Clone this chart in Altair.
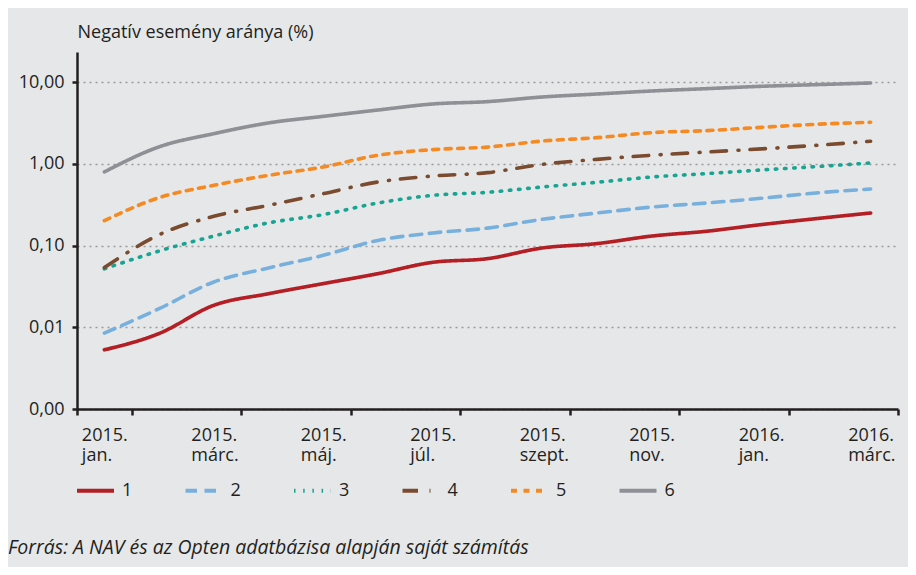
import altair as alt
import pandas as pd

months = ["2015. jan.", "2015. febr.", "2015. márc.", "2015. ápr.", "2015. máj.",
          "2015. jún.", "2015. júl.", "2015. aug.", "2015. szept.", "2015. okt.",
          "2015. nov.", "2015. dec.", "2016. jan.", "2016. febr.", "2016. márc."]
tick_months = ["2015. jan.", "2015. márc.", "2015. máj.", "2015. júl.",
               "2015. szept.", "2015. nov.", "2016. jan.", "2016. márc."]

series_names = ["1", "2", "3", "4", "5", "6"]
s1 = [0.0053, 0.0084, 0.0186, 0.0258, 0.0343, 0.0454, 0.0625, 0.0693, 0.0936, 0.106,
      0.131, 0.150, 0.181, 0.214, 0.251]
s2 = [0.0085, 0.0169, 0.0359, 0.0533, 0.0761, 0.116, 0.143, 0.164, 0.210, 0.251,
      0.297, 0.333, 0.380, 0.442, 0.494]
s3 = [0.052, 0.086, 0.131, 0.190, 0.240, 0.333, 0.413, 0.450, 0.523, 0.597,
      0.693, 0.762, 0.845, 0.928, 1.03]
s4 = [0.054, 0.136, 0.229, 0.312, 0.433, 0.602, 0.713, 0.783, 0.99, 1.14,
      1.28, 1.40, 1.53, 1.69, 1.90]
s5 = [0.202, 0.387, 0.548, 0.727, 0.919, 1.28, 1.50, 1.61, 1.91, 2.10,
      2.42, 2.56, 2.81, 3.06, 3.24]
s6 = [0.80, 1.62, 2.35, 3.18, 3.83, 4.58, 5.43, 5.80, 6.61, 7.19,
      7.83, 8.36, 8.93, 9.36, 9.81]
all_series = [s1, s2, s3, s4, s5, s6]

colors = ["#b31f24", "#78b0dd", "#17a493", "#7a4b2e", "#f58a23", "#8f9095"]
dashes = [[1, 0], [11.5, 7.5], [1.5, 7.7], [15.5, 11.5, 1, 11], [6, 6.5], [1, 0]]

y_title = "Negatív esemény aránya (%)"
source_text = "Forrás: A NAV és az Opten adatbázisa alapján saját számítás"

rows = []
for name, vals in zip(series_names, all_series):
    for m, v in zip(months, vals):
        rows.append({"month": m, "series": name, "value": v})
df = pd.DataFrame(rows)

FONT = "Open Sans"
TXT = "#231f20"
FS = 18

lines = alt.Chart(df).mark_line(
    strokeWidth=3.6, interpolate="monotone", strokeCap="round", strokeJoin="round"
).encode(
    x=alt.X("month:N", sort=months,
            scale=alt.Scale(type="band", domain=months, paddingInner=0, paddingOuter=0),
            axis=alt.Axis(
                title=None, values=tick_months, tickBand="extent",
                labelExpr="datum.value ? split(datum.value, ' ') : ''",
                labelAlign="left", labelOffset=-23, labelBaseline="top",
                labelPadding=11, labelLineHeight=20, tickSize=6, tickWidth=2.5,
                tickColor=TXT, domainColor=TXT, domainWidth=2.5, grid=False,
                labelFont=FONT, labelFontSize=FS, labelColor=TXT, labelAngle=0,
            )),
    y=alt.Y("value:Q",
            scale=alt.Scale(type="log", domain=[0.001, 23.5], nice=False),
            axis=alt.Axis(
                title=y_title, titleAngle=0, titleX=0, titleY=-15,
                titleAlign="left", titleBaseline="alphabetic",
                titleFont=FONT, titleFontSize=FS, titleFontWeight="normal", titleColor=TXT,
                values=[0.001, 0.01, 0.1, 1, 10],
                labelExpr="replace(format(datum.value, '.2f'), '.', ',')",
                labelFont=FONT, labelFontSize=FS, labelColor=TXT, labelPadding=8,
                tickSize=5, tickWidth=2.5, tickColor=TXT,
                domainColor=TXT, domainWidth=2.5,
                grid=True, gridColor="#9a9a9a", gridDash=[2, 4], gridWidth=1.3,
            )),
    color=alt.Color("series:N",
                    scale=alt.Scale(domain=series_names, range=colors),
                    legend=alt.Legend(
                        title=None, orient="none", direction="horizontal",
                        legendX=-2, legendY=418, padding=0,
                        symbolType="stroke", symbolSize=1369, symbolStrokeWidth=4,
                        columnPadding=44.5, gridAlign="all",
                        labelFont=FONT, labelFontSize=FS, labelColor=TXT, labelOffset=6,
                    )),
    strokeDash=alt.StrokeDash("series:N",
                              scale=alt.Scale(domain=series_names, range=dashes),
                              legend=None),
)

src = alt.Chart(pd.DataFrame({"t": [source_text]})).mark_text(
    align="left", baseline="alphabetic", font=FONT, fontSize=19.5,
    fontStyle="italic", color=TXT,
).encode(text="t:N", x=alt.value(-69), y=alt.value(502))

chart = alt.layer(lines, src).properties(
    width=821, height=357,
    autosize=alt.AutoSizeParams(type="none"),
    padding={"left": 69, "top": 44, "right": 10, "bottom": 158},
    background="#e6e7e8",
).configure_view(stroke=None)

chart.save("out.html", embed_options={"renderer": "svg", "actions": False})
